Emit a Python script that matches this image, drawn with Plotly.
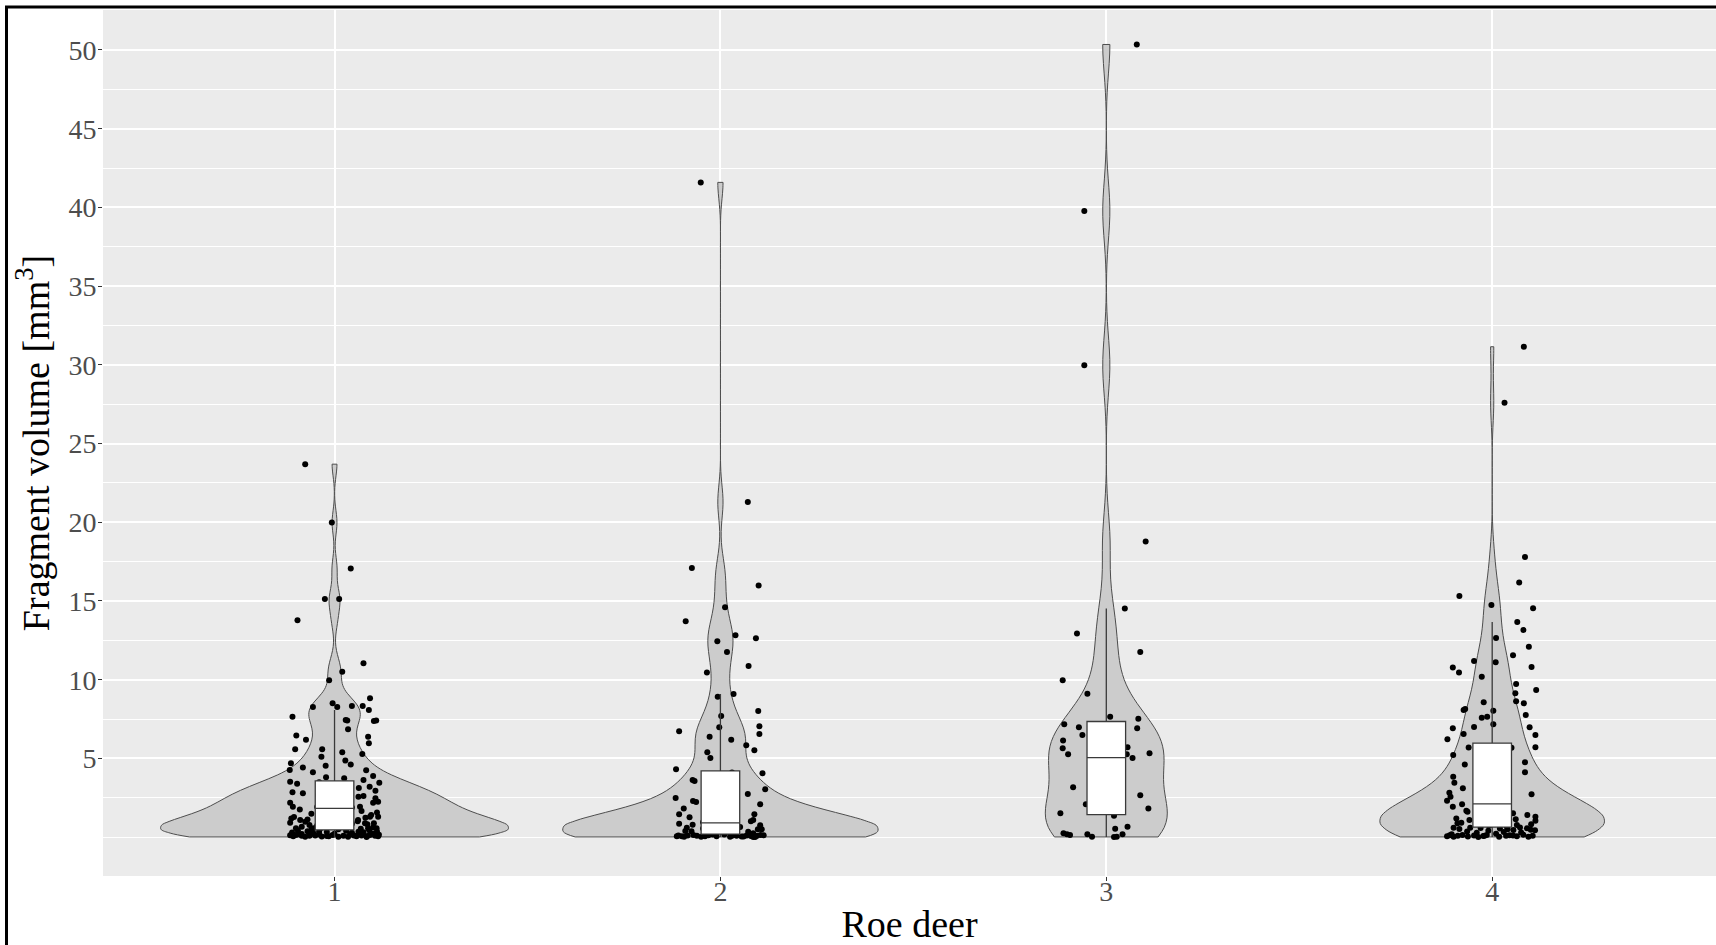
import numpy as np
import plotly.graph_objects as go

# ---------------- data ----------------
CATEGORIES = ["1", "2", "3", "4"]
TICK_VALUES_Y = [5, 10, 15, 20, 25, 30, 35, 40, 45, 50]

G1_VALUES = [
    23.69, 19.98, 17.06, 15.13, 15.13, 13.78, 11.04, 10.51, 9.96, 8.82, 8.27, 8.50, 8.27, 8.33, 8.33, 8.08,
    7.65, 7.44, 7.40, 7.38, 7.40, 6.85, 6.45, 6.19, 6.38, 5.96, 5.58, 5.58, 5.39, 5.28, 5.11, 4.69, 4.86,
    4.54, 4.62, 4.26, 4.43, 4.12, 4.24, 3.80, 3.74, 3.63, 3.88,
    3.52, 3.39, 3.46, 3.20, 3.12, 2.85, 2.78, 2.95, 2.57, 2.61, 2.47, 2.19, 1.93, 1.93, 2.25, 2.19,
    3.48, 3.41, 3.33, 3.27, 3.18, 3.10, 3.02, 2.96, 2.90, 2.83, 2.74, 2.68, 2.62, 2.55, 2.49, 2.41, 2.36,
    2.30, 2.22, 2.15, 2.10, 2.05, 2.01, 1.97, 1.92, 1.88, 1.85,
    1.19, 1.09, 0.98, 1.30, 1.30, 1.09, 0.88, 0.88, 0.77, 0.56, 0.56, 0.56, 0.56,
    1.80, 1.76, 1.71, 1.66, 1.62, 1.57, 1.52, 1.48, 1.44, 1.40, 1.36, 1.32, 1.27, 1.23, 1.16, 1.12, 1.05,
    1.01, 0.95, 0.91, 0.85, 0.81, 0.74, 0.70, 0.66, 0.62, 0.58, 0.53, 0.50, 0.47,
    0.34, 0.34, 0.12, 0.05, 0.18, 0.08, 0.02, 0.15, 0.10, 0.04, 0.07, 0.13, 0.03, 0.09, 0.16, 0.06, 0.11,
    0.01, 0.14, 0.08, 0.05,
    0.44, 0.42, 0.40, 0.38, 0.36, 0.33, 0.31, 0.29, 0.27, 0.25, 0.23, 0.21, 0.20, 0.18, 0.17, 0.15, 0.13,
    0.11, 0.09, 0.07, 0.05, 0.03,
]
G1_JITTER = [
    -0.076, -0.007, 0.042, -0.025, 0.012, -0.096, 0.075, 0.020, -0.014, 0.092, -0.056, -0.005, 0.007, 0.045,
    0.073, 0.089, -0.109, 0.029, 0.033, 0.102, 0.108, 0.035, -0.099, -0.074, 0.087, 0.089, -0.102, -0.032,
    0.020, 0.072, -0.034, -0.113, 0.028, -0.023, 0.042, -0.116, -0.082, -0.056, 0.082, -0.022, 0.025, 0.075,
    0.100,
    -0.115, -0.097, 0.116, 0.091, 0.063, -0.109, -0.082, 0.106, 0.062, 0.075, 0.106, -0.115, -0.108, 0.066,
    0.113, 0.100,
    -0.040, 0.030, -0.020, 0.010, 0.040, -0.035, 0.025, -0.010, 0.035, -0.030, 0.015, -0.042, 0.005, 0.038,
    -0.025, 0.020, -0.005, 0.042, -0.038, 0.028, -0.015, 0.033, -0.028, 0.012, -0.045, 0.045, 0.000,
    -0.112, -0.089, -0.076, 0.092, 0.113, 0.061, 0.079, 0.102, -0.065, -0.100, -0.055, 0.087, 0.109,
    0.035, -0.090, 0.020, 0.070, -0.040, 0.110, -0.010, -0.060, 0.040, 0.095, -0.030, 0.025, -0.105, 0.080,
    0.005, -0.070, 0.030, 0.060, -0.020, -0.115, 0.045, 0.085, -0.045, 0.015, -0.085, 0.100, -0.035, 0.068,
    0.010, -0.060,
    -0.040, 0.062, -0.115, -0.107, -0.094, -0.085, -0.076, -0.063, -0.050, -0.033, -0.020, -0.005, 0.010,
    0.023, 0.040, 0.057, 0.070, 0.083, 0.092, 0.105, 0.113,
    0.090, -0.095, 0.030, -0.070, 0.110, -0.020, 0.075, -0.110, 0.045, -0.055, 0.100, 0.000, -0.085, 0.065,
    -0.040, 0.115, -0.100, 0.050, -0.065, 0.085, -0.015, 0.035,
]

G2_VALUES = [
    41.59, 21.28, 17.10, 15.99, 14.60, 13.71, 12.82, 12.63, 12.44, 11.76, 10.87, 10.45, 8.92, 9.09, 8.01,
    7.70, 7.04, 6.98, 6.55, 6.72, 6.38, 6.19, 5.83, 5.39, 5.52, 5.03, 4.31,
    4.05, 3.63, 3.57, 3.04, 2.74, 2.48, 2.29, 2.23, 2.08, 1.81, 1.45, 1.45, 1.26, 1.00, 1.09,
    4.10, 3.85, 3.40, 3.15, 2.90, 2.60, 2.35, 2.00, 1.70, 1.55, 1.20, 0.95,
    0.85, 0.79, 0.75, 0.60, 0.64, 0.50, 0.50, 0.39, 0.37, 0.34, 0.24,
    0.87, 0.83, 0.80, 0.77, 0.72, 0.69, 0.66, 0.62, 0.57, 0.54, 0.47, 0.44, 0.32, 0.29, 0.26, 0.21,
    0.11, 0.06, 0.10, 0.03, 0.08, 0.05, 0.12, 0.02, 0.09, 0.04, 0.11, 0.07, 0.01, 0.13,
    0.17, 0.16, 0.15, 0.14, 0.12, 0.10, 0.09, 0.08, 0.06, 0.05, 0.04, 0.02, 0.01,
]
G2_JITTER = [
    -0.051, 0.071, -0.074, 0.099, 0.012, -0.090, 0.039, 0.092, -0.008, 0.017, 0.073, -0.035, -0.007, 0.034,
    0.098, 0.002, 0.101, -0.003, 0.101, -0.107, -0.028, 0.028, 0.067, -0.034, 0.088, -0.026, -0.115,
    0.109, -0.072, -0.067, 0.116, 0.071, -0.116, -0.071, -0.063, 0.103, -0.095, 0.088, -0.107, -0.080, 0.079,
    0.085,
    0.030, -0.020, 0.040, -0.035, 0.010, -0.040, 0.025, -0.010, 0.035, -0.025, 0.015, -0.045,
    -0.107, -0.072, 0.103, -0.087, 0.051, 0.107, 0.097, -0.091, -0.075, 0.072, 0.085,
    -0.030, 0.020, -0.040, 0.035, -0.015, 0.005, 0.042, -0.025, 0.030, -0.045, 0.012, -0.008, 0.040, -0.035,
    0.025, -0.020,
    -0.044, -0.113, -0.109, -0.094, -0.061, -0.040, -0.031, 0.025, 0.042, 0.055, 0.068, 0.079, 0.090, 0.104,
    0.010, -0.020, 0.035, -0.070, 0.112, -0.085, 0.030, 0.095, -0.010, -0.100, 0.060, -0.050, 0.085,
]

G3_VALUES = [
    50.35, 39.78, 29.97, 18.78, 14.53, 12.93, 11.76, 9.96, 9.11, 7.65, 7.52,
    7.17, 6.98, 6.91, 6.49, 6.13, 5.64, 5.71, 5.33, 5.26, 5.26, 5.08,
    5.03, 3.16, 2.66, 2.08, 1.81, 1.51, 4.60, 4.10, 3.60, 2.40, 1.70,
    1.36, 0.66, 0.53, 0.18, 0.24, 0.18, 0.13, 0.18, 0.02, 0.01, 0.03,
]
G3_JITTER = [
    0.079, -0.057, -0.057, 0.102, 0.048, -0.076, 0.088, -0.113, -0.049, 0.010, 0.083,
    -0.109, -0.071, 0.080, -0.062, -0.112, -0.113, 0.055, 0.112, -0.099, 0.053, 0.030,
    0.068, -0.086, 0.088, -0.053, 0.109, -0.119, -0.020, 0.035, -0.040, 0.015, -0.030,
    0.020, 0.055, 0.023, 0.042, -0.111, -0.102, -0.094, -0.049, -0.037, 0.020, 0.027,
]

G4_VALUES = [
    31.15, 27.59, 17.80, 16.17, 15.32, 14.54, 14.75, 13.67, 13.16, 12.10, 12.65, 11.55, 11.19, 11.11, 10.77,
    10.45, 10.81, 10.19, 9.73, 9.35, 9.14, 8.63, 8.08, 8.14, 8.57, 8.03, 8.50, 7.76, 7.59, 7.65, 7.17, 6.91,
    7.00, 6.98, 6.22, 6.55, 6.49,
    5.71, 5.70, 5.22, 5.68, 4.75, 4.62, 4.12, 3.84, 3.46, 3.10, 2.82, 2.57, 2.31, 2.72,
    5.60, 5.45, 5.30, 5.10, 4.95, 4.85, 4.55, 4.40, 4.25, 4.00, 3.90, 3.70, 3.60, 3.35, 3.25, 3.00, 2.90,
    2.65, 2.50, 2.42, 2.35, 2.20, 2.15,
    1.93, 2.08, 1.61, 1.68, 1.19, 1.09, 1.40, 1.30, 1.04, 1.51, 0.88, 0.92, 1.13, 0.81, 0.77,
    2.05, 2.00, 1.95, 1.88, 1.84, 1.78, 1.74, 1.70, 1.65, 1.56, 1.47, 1.43, 1.36, 1.33, 1.25, 1.20, 1.15,
    1.00, 0.96, 0.85, 0.72, 0.66,
    0.61, 0.56, 0.43, 0.45, 0.60, 0.60,
    0.05, 0.12, 0.02, 0.08, 0.14, 0.04, 0.10, 0.01, 0.07, 0.13, 0.03, 0.09, 0.11, 0.06, 0.15, 0.02, 0.08,
    0.58, 0.55, 0.52, 0.50, 0.47, 0.40, 0.36, 0.33, 0.30, 0.27, 0.22, 0.18, 0.12, 0.08,
]
G4_JITTER = [
    0.082, 0.032, 0.085, 0.070, -0.085, 0.106, -0.002, 0.065, 0.081, 0.095, 0.010, 0.054, -0.047, 0.009,
    -0.102, -0.086, 0.102, -0.027, 0.062, 0.114, 0.060, 0.062, -0.074, -0.070, -0.022, 0.003, 0.082, 0.087,
    -0.027, -0.013, 0.003, -0.102, -0.047, 0.097, -0.116, -0.074, 0.112,
    0.112, -0.061, -0.101, 0.050, 0.085, -0.071, 0.085, -0.101, -0.098, -0.076, -0.111, -0.108, -0.117, 0.102,
    -0.030, 0.020, -0.040, 0.035, 0.005, -0.015, 0.040, -0.035, 0.025, -0.005, 0.030, -0.025, 0.015, -0.040,
    0.010, 0.038, -0.020, 0.000, -0.032, 0.022, -0.010, 0.033, -0.038,
    -0.102, -0.078, -0.064, -0.067, -0.093, -0.059, 0.091, 0.112, 0.112, 0.054, -0.090, -0.080, 0.061, 0.101,
    0.064,
    0.030, -0.040, 0.015, -0.020, 0.040, -0.005, 0.025, -0.035, 0.010, -0.025, 0.035, -0.012, 0.020, -0.030,
    0.005, 0.042, -0.042, 0.018, -0.018, 0.028, -0.008, 0.038,
    0.072, 0.090, 0.111, 0.055, -0.100, -0.057,
    -0.117, -0.110, -0.100, -0.089, -0.077, -0.063, -0.047, -0.036, -0.023, -0.014, 0.018, 0.036, 0.054,
    0.064, 0.081, 0.094, 0.105,
    -0.030, 0.020, -0.085, 0.040, 0.100, -0.010, -0.065, 0.030, 0.075, -0.040, 0.010, -0.105, 0.045, -0.020,
]

GROUP_VALUES = [G1_VALUES, G2_VALUES, G3_VALUES, G4_VALUES]
GROUP_JITTER = [G1_JITTER, G2_JITTER, G3_JITTER, G4_JITTER]

# ---------------- styles ----------------
VIOLIN_WIDTHS = [0.90, 0.815, 0.315, 0.58]
FONT = "Liberation Serif, Times New Roman, serif"
X_RANGE = [0.40, 4.58]
Y_RANGE = [-2.47, 52.54]


def bw_nrd0(v):
    v = np.asarray(v, dtype=float)
    sd = np.std(v, ddof=1)
    q75, q25 = np.percentile(v, [75, 25])
    lo = min(sd, (q75 - q25) / 1.34)
    if lo <= 0:
        lo = sd if sd > 0 else 1.0
    return 0.9 * lo * len(v) ** (-0.2)


fig = go.Figure()

for i, (vals, jit) in enumerate(zip(GROUP_VALUES, GROUP_JITTER)):
    pos = i + 1
    fig.add_trace(go.Violin(
        x=[pos] * len(vals), y=vals,
        width=VIOLIN_WIDTHS[i], scalemode="width", spanmode="hard",
        bandwidth=bw_nrd0(vals),
        fillcolor="#CCCCCC", line=dict(color="#4D4D4D", width=1),
        points=False, hoverinfo="skip", showlegend=False, opacity=1,
    ))

for i, (vals, jit) in enumerate(zip(GROUP_VALUES, GROUP_JITTER)):
    pos = i + 1
    fig.add_trace(go.Scatter(
        x=[pos + j for j in jit], y=vals, mode="markers",
        marker=dict(color="black", size=6, line=dict(width=0)),
        hoverinfo="skip", showlegend=False,
    ))

for i, vals in enumerate(GROUP_VALUES):
    pos = i + 1
    fig.add_trace(go.Box(
        x=[pos] * len(vals), y=vals, xaxis="x2", yaxis="y2",
        width=0.1, fillcolor="white", line=dict(color="#3A3A3A", width=1.3),
        boxpoints="outliers", marker=dict(opacity=0, size=1),
        whiskerwidth=0, quartilemethod="linear",
        hoverinfo="skip", showlegend=False,
    ))

minor_vals = [0, 2.5] + [v + 2.5 for v in TICK_VALUES_Y]

fig.update_layout(
    width=1716, height=945,
    margin=dict(l=103, r=0, t=10, b=69, autoexpand=False),
    paper_bgcolor="white", plot_bgcolor="#EBEBEB",
    violinmode="overlay", boxmode="overlay",
    font=dict(family=FONT, color="black"),
    xaxis=dict(
        range=X_RANGE, tickvals=[1, 2, 3, 4], ticktext=CATEGORIES,
        showgrid=True, gridcolor="white", gridwidth=1.5, zeroline=False,
        ticks="outside", ticklen=4, tickcolor="#333333", tickwidth=1,
        ticklabelstandoff=-14, automargin=False,
        tickfont=dict(family=FONT, size=28, color="#4D4D4D"),
        title=dict(text="Roe deer", font=dict(family=FONT, size=38, color="black"), standoff=12),
        showline=False,
    ),
    yaxis=dict(
        range=Y_RANGE, tickvals=TICK_VALUES_Y, ticktext=[str(v) for v in TICK_VALUES_Y],
        showgrid=True, gridcolor="white", gridwidth=1.5, zeroline=False,
        ticks="outside", ticklen=4, tickcolor="#333333", tickwidth=1,
        ticklabelstandoff=-4, automargin=False,
        tickfont=dict(family=FONT, size=28, color="#4D4D4D"),
        minor=dict(tickvals=minor_vals, showgrid=True, gridcolor="white", gridwidth=0.75, ticks=""),
        title=dict(text="Fragment volume [mm<sup>3</sup>]", font=dict(family=FONT, size=38, color="black"),
                   standoff=7),
        showline=False,
    ),
    xaxis2=dict(overlaying="x", range=X_RANGE, visible=False, showgrid=False, zeroline=False,
                automargin=False),
    yaxis2=dict(overlaying="y", range=Y_RANGE, visible=False, showgrid=False, zeroline=False,
                automargin=False),
    shapes=[dict(type="rect", xref="paper", yref="paper",
                 x0=(6.5 - 103) / 1613, x1=1.01, y0=-0.2, y1=1 + (10 - 7) / 866,
                 line=dict(color="black", width=3), fillcolor="rgba(0,0,0,0)", layer="above")],
)

fig.write_html("out.html", config={"displayModeBar": False},
               post_script="document.body.style.margin='0';")
